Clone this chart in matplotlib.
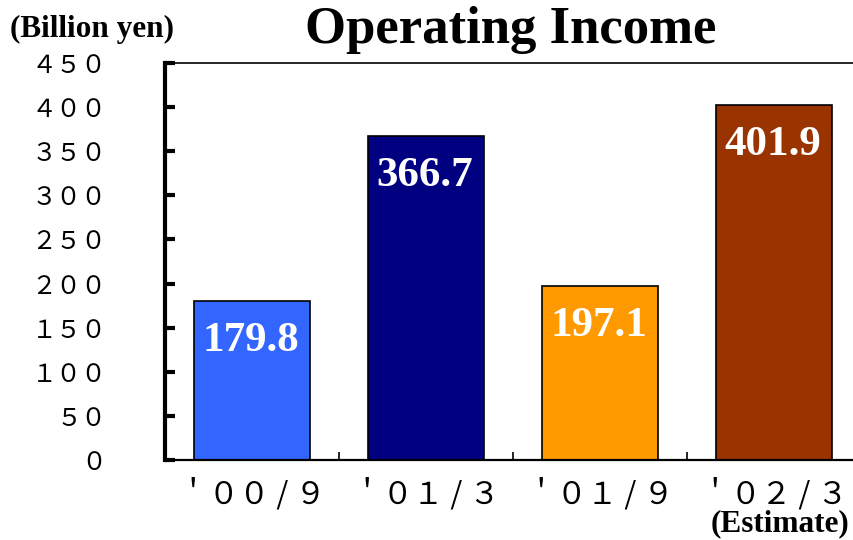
"""Operating income bar chart."""

import numpy as np
from matplotlib import pyplot as plt
from matplotlib.ticker import FixedLocator

# data
periods = ['＇００ / ９', '＇０１ / ３', '＇０１ / ９', '＇０２ / ３']
income = [179.8, 366.7, 197.1, 401.9]
bar_colors = ['#3366FF', '#000080', '#FF9900', '#993300']
y_ticks = np.arange(0, 451, 50)
# full-width digits for the y tick labels
y_tick_labels = [''.join(chr(ord(c) + 0xFEE0) for c in str(v)) for v in y_ticks]

fig = plt.figure(figsize=(8.54, 5.4), dpi=100)
ax = fig.add_axes([165 / 854, 1 - 460 / 540, 1 - 165 / 854, (460 - 63) / 540])

x = np.arange(len(income))
ax.bar(x, income, width=0.667, color=bar_colors, edgecolor='black', linewidth=1.2, zorder=2)

for xi, val in zip(x, income):
    ax.annotate(f'{val:.1f}', (xi, val), xytext=(-1, -28.5), textcoords='offset points',
                ha='center', va='center', color='white', fontsize=31, fontweight='bold',
                family='Liberation Serif', zorder=3)

ax.set_xlim(-0.5, -0.5 + 689 / 174)
ax.set_ylim(0, 450)

ax.set_yticks(y_ticks)
ax.set_yticklabels(y_tick_labels, family='Noto Sans CJK JP', fontsize=18)
ax.tick_params(axis='y', direction='in', length=7, width=3, pad=42)

ax.set_xticks(x)
ax.set_xticklabels(periods, family='Noto Sans CJK JP', fontsize=22)
ax.tick_params(axis='x', which='major', length=0, pad=13)
ax.xaxis.set_minor_locator(FixedLocator([0.5, 1.5, 2.5]))
ax.tick_params(axis='x', which='minor', direction='in', length=6, width=1.2)

ax.spines['left'].set_linewidth(3)
ax.spines['bottom'].set_linewidth(1.6)
ax.spines['top'].set_linewidth(1.2)
ax.spines['right'].set_visible(False)

fig.text(511 / 854, 1 - 30 / 540, 'Operating Income', ha='center', va='center',
         fontsize=38, fontweight='bold', family='Liberation Serif')
fig.text(10 / 854, 1 - 29 / 540, '(Billion yen)', ha='left', va='center',
         fontsize=22.5, fontweight='bold', family='Liberation Serif')
fig.text(849 / 854, 1 - 524 / 540, '(Estimate)', ha='right', va='center',
         fontsize=22.5, fontweight='bold', family='Liberation Serif')

fig.savefig('out.png', dpi=100)
